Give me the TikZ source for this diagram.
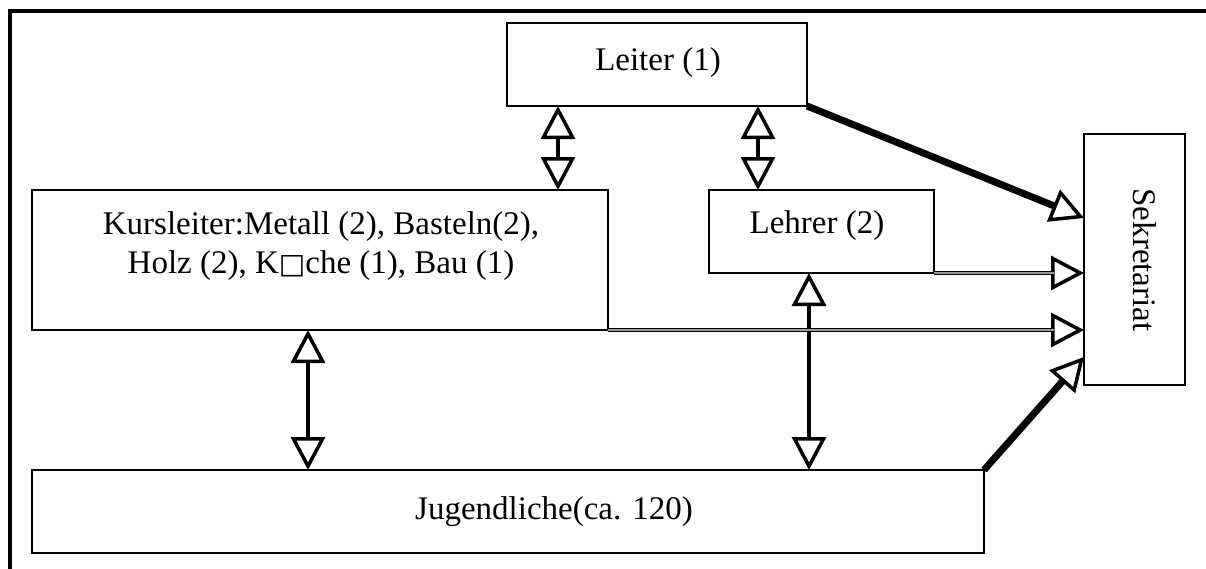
\documentclass[tikz,border=0pt]{standalone}
\usepackage{fontspec}
\setmainfont{Liberation Serif}
\newfontfamily\symfont{DejaVu Sans}
\usetikzlibrary{arrows.meta}
\tikzset{
  openhead/.tip={Triangle[length=33pt,width=34pt,fill=white,line width=3.5pt]},
  box/.style={draw, line width=2.5pt, inner sep=0pt, outer sep=0pt},
  txt/.style={inner sep=0pt, font=\fontsize{33}{39}\selectfont},
  biarrow/.style={line width=4.5pt, {openhead}-{openhead}},
  dblarrow/.style={line width=4pt, -{openhead},
    postaction={draw=black!40, line width=1.2pt, -, shorten >=30pt}},
  heavyarrow/.style={line width=7pt, -{openhead}},
}
\begin{document}
\begin{tikzpicture}[x=1pt,y=-1pt]
\useasboundingbox (0,0) rectangle (1206,568);
% outer frame (only top and left edges fall inside the picture)
\draw[line width=4pt] (10,580) -- (10,10.5) -- (1220,10.5);

% boxes
\node[box, minimum width=300pt, minimum height=83pt]  (leiter) at (657,64.5) {};
\node[box, minimum width=576pt, minimum height=140pt] (kurs)   at (320,260) {};
\node[box, minimum width=225pt, minimum height=83pt]  (lehrer) at (821.5,231.5) {};
\node[box, minimum width=101pt, minimum height=251pt] (sek)    at (1134.5,259.5) {};
\node[box, minimum width=952pt, minimum height=83pt]  (jug)    at (508,511.5) {};

% texts
\node[txt, anchor=base] (tleiter) at (658,70) {Leiter (1)};
\node[txt, align=center] (tkurs) at (321,246)
  {Kursleiter:Metall (2), Basteln(2),\\ Holz (2), K{\symfont\fontsize{28}{28}\selectfont □}che (1), Bau (1)};
\node[txt, anchor=base] (tlehrer) at (817,233) {Lehrer (2)};
\node[txt, anchor=base] (tjug) at (554,519) {Jugendliche(ca. 120)};
\node[txt, anchor=base, rotate=-90] (tsek) at (1133,260) {Sekretariat};

% helper coordinates
\coordinate (c1) at (558,0);
\coordinate (c2) at (758,0);
\coordinate (c3) at (308,0);
\coordinate (c4) at (809,0);
\coordinate (sL) at ([yshift=-84pt]sek.north west);
\coordinate (sJ) at ([yshift=-223pt]sek.north west);

% two-way arrows
\draw[biarrow] (leiter.south -| c1) -- (kurs.north -| c1);
\draw[biarrow] (leiter.south -| c2) -- (lehrer.north -| c2);
\draw[biarrow] (kurs.south -| c3) -- (jug.north -| c3);
\draw[biarrow] (lehrer.south -| c4) -- (jug.north -| c4);

% arrows to Sekretariat
\draw[heavyarrow] (leiter.south east) -- (sL);
\draw[dblarrow] (lehrer.south east) -- (sek.west |- lehrer.south east);
\draw[dblarrow] (kurs.south east) -- (sek.west |- kurs.south east);
\draw[heavyarrow] (jug.north east) -- (sJ);
\end{tikzpicture}
\end{document}
